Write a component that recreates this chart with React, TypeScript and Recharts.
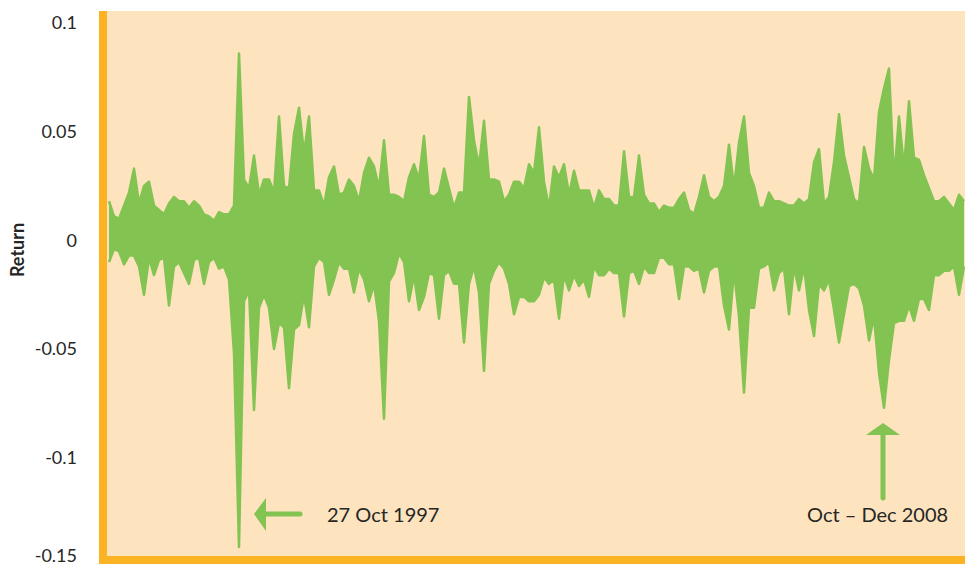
import React from 'react';
import { AreaChart, Area, XAxis, YAxis, CartesianGrid } from 'recharts';

const UPPER = [
  0.018, 0.011, 0.010, 0.016, 0.022, 0.033, 0.017, 0.025, 0.027, 0.016,
  0.014, 0.012, 0.017, 0.020, 0.018, 0.018, 0.015, 0.018, 0.016, 0.012,
  0.011, 0.009, 0.013, 0.012, 0.012, 0.016, 0.086, 0.028, 0.024, 0.039,
  0.021, 0.028, 0.028, 0.022, 0.057, 0.025, 0.024, 0.049, 0.061, 0.040,
  0.057, 0.023, 0.023, 0.016, 0.029, 0.034, 0.021, 0.022, 0.028, 0.025,
  0.018, 0.031, 0.038, 0.034, 0.024, 0.046, 0.021, 0.021, 0.020, 0.018,
  0.029, 0.035, 0.028, 0.048, 0.021, 0.020, 0.022, 0.033, 0.024, 0.015,
  0.022, 0.022, 0.066, 0.046, 0.034, 0.055, 0.028, 0.028, 0.027, 0.018,
  0.021, 0.027, 0.027, 0.024, 0.035, 0.031, 0.052, 0.027, 0.015, 0.034,
  0.029, 0.035, 0.021, 0.032, 0.023, 0.023, 0.023, 0.015, 0.023, 0.019,
  0.019, 0.016, 0.016, 0.041, 0.020, 0.020, 0.039, 0.021, 0.017, 0.017,
  0.013, 0.016, 0.015, 0.015, 0.019, 0.022, 0.014, 0.012, 0.020, 0.030,
  0.020, 0.018, 0.020, 0.025, 0.044, 0.024, 0.045, 0.057, 0.031, 0.025,
  0.015, 0.015, 0.022, 0.018, 0.018, 0.017, 0.016, 0.016, 0.019, 0.017,
  0.019, 0.036, 0.042, 0.017, 0.020, 0.036, 0.058, 0.039, 0.029, 0.019,
  0.017, 0.043, 0.033, 0.028, 0.059, 0.070, 0.079, 0.028, 0.057, 0.033,
  0.064, 0.038, 0.037, 0.030, 0.024, 0.018, 0.018, 0.020, 0.017, 0.014, 0.021, 0.018,
];

const LOWER = [
  -0.010, -0.004, -0.005, -0.011, -0.007, -0.007, -0.012, -0.025, -0.008, -0.016,
  -0.009, -0.008, -0.030, -0.012, -0.010, -0.015, -0.020, -0.009, -0.008, -0.020,
  -0.010, -0.008, -0.013, -0.012, -0.018, -0.052, -0.141, -0.028, -0.023, -0.078,
  -0.031, -0.025, -0.031, -0.050, -0.038, -0.040, -0.068, -0.041, -0.039, -0.025,
  -0.040, -0.012, -0.008, -0.010, -0.025, -0.018, -0.010, -0.013, -0.013, -0.024,
  -0.013, -0.018, -0.028, -0.020, -0.037, -0.082, -0.019, -0.015, -0.006, -0.010,
  -0.028, -0.016, -0.032, -0.026, -0.015, -0.016, -0.036, -0.016, -0.014, -0.020,
  -0.020, -0.047, -0.020, -0.012, -0.024, -0.060, -0.020, -0.014, -0.010, -0.013,
  -0.020, -0.034, -0.026, -0.026, -0.028, -0.028, -0.025, -0.017, -0.020, -0.018,
  -0.036, -0.016, -0.023, -0.016, -0.021, -0.018, -0.026, -0.012, -0.016, -0.016,
  -0.013, -0.015, -0.015, -0.035, -0.015, -0.014, -0.020, -0.012, -0.015, -0.015,
  -0.008, -0.008, -0.011, -0.011, -0.027, -0.012, -0.012, -0.014, -0.013, -0.024,
  -0.014, -0.012, -0.012, -0.030, -0.041, -0.014, -0.035, -0.070, -0.031, -0.031,
  -0.013, -0.012, -0.010, -0.023, -0.015, -0.013, -0.034, -0.012, -0.023, -0.012,
  -0.032, -0.044, -0.020, -0.023, -0.018, -0.032, -0.047, -0.034, -0.021, -0.020,
  -0.022, -0.030, -0.046, -0.035, -0.061, -0.077, -0.055, -0.038, -0.037, -0.037,
  -0.030, -0.037, -0.027, -0.027, -0.032, -0.016, -0.016, -0.014, -0.014, -0.012, -0.025, -0.012,
];

const Y_DOMAIN = [-0.147, 0.1055];
const Y_TICKS = [-0.147, -0.1, -0.05, 0, 0.05, 0.1];

const GREEN = '#82c352';
const ORANGE = '#fbb324';
const PEACH = '#fde4be';
const INK = '#262626';

const fmt = (v: number) => String(Number(v.toFixed(2)));

// bottom label sits a little higher than its tick, as in the original
const YTick = ({ x, y, payload }: any) => {
  const lift = payload.value === Y_DOMAIN[0] ? -4 : 0;
  return (
    <text x={x} y={y + lift} dy="0.355em" textAnchor="end" fill={INK} fontSize={18} fontFamily="Lato">
      {fmt(payload.value)}
    </text>
  );
};

const App: React.FC = () => {
  const data = UPPER.map((hi, i) => ({ idx: i, band: [LOWER[i], hi] }));

  return (
    <div style={{ position: 'absolute', left: 0, top: 0, width: 965, height: 567, overflow: 'hidden', background: '#fff' }}>
      <AreaChart width={965} height={567} data={data} margin={{ top: 11, right: 0, bottom: 0, left: 0 }}>
        <CartesianGrid fill={PEACH} horizontal={false} vertical={false} />
        <XAxis
          dataKey="idx"
          tick={false}
          tickLine={false}
          height={7}
          padding={{ left: 6, right: 1 }}
          axisLine={{ stroke: ORANGE, strokeWidth: 8, strokeLinecap: 'square' }}
        />
        <YAxis
          width={103}
          domain={Y_DOMAIN}
          ticks={Y_TICKS}
          interval={0}
          allowDataOverflow
          tickLine={false}
          tickSize={0}
          tickMargin={26}
          axisLine={{ stroke: ORANGE, strokeWidth: 8 }}
          tick={<YTick />}
        />
        <Area
          type="linear"
          dataKey="band"
          stroke={GREEN}
          strokeWidth={2.5}
          strokeLinejoin="round"
          fill={GREEN}
          fillOpacity={1}
          dot={false}
          activeDot={false}
          isAnimationActive={false}
        />
      </AreaChart>

      {/* axis title and the two call-outs */}
      <svg width={965} height={567} style={{ position: 'absolute', left: 0, top: 0, pointerEvents: 'none' }}>
        <text x={24} y={250} transform="rotate(-90 24 250)" textAnchor="middle" fontFamily="Lato" fontWeight="bold" fontSize={18} fill={INK}>
          Return
        </text>

        <line x1={264} y1={514} x2={300} y2={514} stroke={GREEN} strokeWidth={5} strokeLinecap="round" />
        <polygon points="254,514 266,498 266,531" fill={GREEN} />
        <text x={327} y={522} fontFamily="Lato" fontSize={20} fill={INK}>27 Oct 1997</text>

        <line x1={883} y1={433} x2={883} y2={498} stroke={GREEN} strokeWidth={5} strokeLinecap="round" />
        <polygon points="883,423 866,435 900,435" fill={GREEN} />
        <text x={807} y={522} fontFamily="Lato" fontSize={20} fill={INK}>Oct – Dec 2008</text>
      </svg>
    </div>
  );
};

export default App;
